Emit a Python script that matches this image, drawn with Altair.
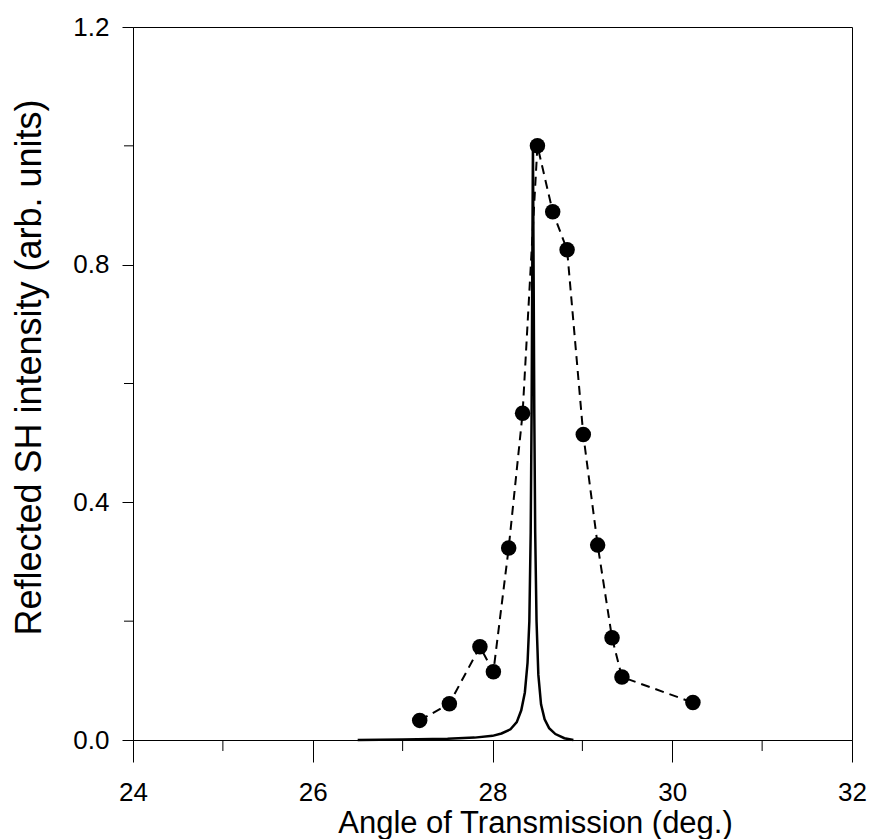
import altair as alt
import pandas as pd

# Measured SH intensity (dots, dashed line)
dot_angle = [27.19, 27.52, 27.86, 28.01, 28.18, 28.335, 28.50, 28.67, 28.83, 29.01, 29.17, 29.33, 29.44, 30.23]
dot_intensity = [0.033, 0.061, 0.157, 0.115, 0.323, 0.550, 1.000, 0.889, 0.825, 0.514, 0.328, 0.172, 0.106, 0.063]

# Calculated curve (solid line)
curve_angle = [26.5, 27.0, 27.5, 27.8, 28.0, 28.1, 28.2, 28.27, 28.32, 28.36, 28.39, 28.41,
               28.425, 28.435, 28.443, 28.45, 28.457, 28.465, 28.475, 28.49, 28.51, 28.54,
               28.58, 28.63, 28.7, 28.8, 28.9]
curve_intensity = [0.0, 0.001, 0.002, 0.004, 0.007, 0.011, 0.018, 0.03, 0.05, 0.08, 0.13, 0.2,
                   0.35, 0.55, 0.8, 1.0, 0.8, 0.55, 0.35, 0.2, 0.11, 0.06,
                   0.035, 0.02, 0.01, 0.003, 0.0]

x_major = [24, 26, 28, 30, 32]
x_minor = [25, 27, 29, 31]
y_major = [0.0, 0.4, 0.8, 1.2]
y_minor = [0.2, 0.6, 1.0]

dots = pd.DataFrame({"angle": dot_angle, "intensity": dot_intensity})
curve = pd.DataFrame({"angle": curve_angle, "intensity": curve_intensity})
xminor_df = pd.DataFrame({"angle": x_minor})
yminor_df = pd.DataFrame({"intensity": y_minor})

FONT = "Liberation Sans"

x_scale = alt.Scale(domain=[24, 32], nice=False, zero=False)
y_scale = alt.Scale(domain=[0, 1.2], nice=False)

x_axis = alt.Axis(
    values=x_major, format="d",
    tickSize=22, tickColor="black", domainColor="black", tickWidth=1, domainWidth=1,
    labelFont=FONT, labelFontSize=26, labelColor="black", labelPadding=17,
    labelFlush=False, labelOverlap=False,
    grid=False,
    title="Angle of Transmission (deg.)",
    titleFont=FONT, titleFontSize=31, titleFontWeight="normal", titleColor="black",
    titleX=402, titleY=92, titleAlign="center", titleBaseline="alphabetic",
)

y_axis = alt.Axis(
    values=y_major, format=".1f",
    tickSize=11, tickColor="black", domainColor="black", tickWidth=1, domainWidth=1,
    labelFont=FONT, labelFontSize=26, labelColor="black", labelPadding=13,
    labelFlush=False, labelOverlap=False,
    grid=False,
    title="Reflected SH intensity (arb. units)",
    titleFont=FONT, titleFontSize=36, titleFontWeight="normal", titleColor="black",
    titleAngle=270, titleX=-104, titleY=340, titleAlign="center", titleBaseline="middle",
)

dashed = alt.Chart(dots).mark_line(
    color="black", strokeWidth=2, strokeDash=[9, 6]
).encode(
    x=alt.X("angle:Q", scale=x_scale, axis=x_axis),
    y=alt.Y("intensity:Q", scale=y_scale, axis=y_axis),
)

solid = alt.Chart(curve).mark_line(
    color="black", strokeWidth=2.5
).encode(
    x=alt.X("angle:Q", scale=x_scale),
    y=alt.Y("intensity:Q", scale=y_scale),
)

points = alt.Chart(dots).mark_circle(
    color="black", size=240, opacity=1
).encode(
    x=alt.X("angle:Q", scale=x_scale),
    y=alt.Y("intensity:Q", scale=y_scale),
)

# minor tick marks (shorter than the major axis ticks)
x_minor_ticks = alt.Chart(xminor_df).mark_rule(color="black", strokeWidth=1).encode(
    x=alt.X("angle:Q", scale=x_scale),
    y=alt.value(713),
    y2=alt.value(724),
)
y_minor_ticks = alt.Chart(yminor_df).mark_rule(color="black", strokeWidth=1).encode(
    y=alt.Y("intensity:Q", scale=y_scale),
    x=alt.value(0),
    x2=alt.value(-9),
)

chart = alt.layer(dashed, solid, points, x_minor_ticks, y_minor_ticks).properties(
    width=719,
    height=713,
    autosize=alt.AutoSizeParams(type="none"),
    padding={"left": 133, "top": 27, "right": 18, "bottom": 99},
    background="white",
).configure_view(
    stroke="black", strokeWidth=1
)

chart.save("out.html", embed_options={"renderer": "svg", "actions": False})
